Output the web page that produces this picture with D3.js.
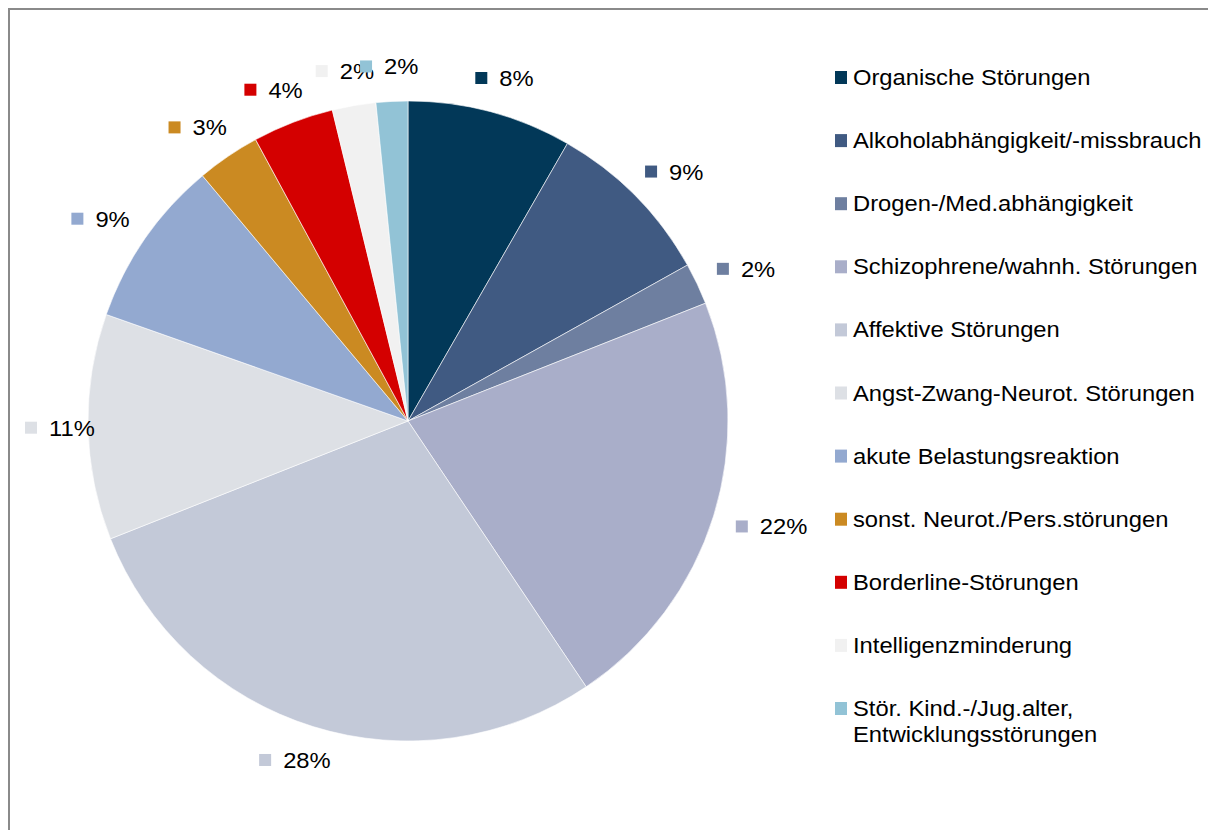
<!DOCTYPE html>
<html>
<head>
<meta charset="utf-8">
<script src="https://cdn.jsdelivr.net/npm/d3@7"></script>
<style>
  body { margin: 0; background: #fff; }
  svg { display: block; font-family: "Liberation Sans", Arial, sans-serif; }
</style>
</head>
<body>
<svg id="chart"></svg>
<script>
const categories = [
  "Organische Störungen",
  "Alkoholabhängigkeit/-missbrauch",
  "Drogen-/Med.abhängigkeit",
  "Schizophrene/wahnh. Störungen",
  "Affektive Störungen",
  "Angst-Zwang-Neurot. Störungen",
  "akute Belastungsreaktion",
  "sonst. Neurot./Pers.störungen",
  "Borderline-Störungen",
  "Intelligenzminderung",
  "Stör. Kind.-/Jug.alter, Entwicklungsstörungen"
];
const shares = [8.3, 8.6, 2.1, 21.6, 28.4, 11.4, 8.5, 3.2, 4.1, 2.2, 1.6];
const colors = ["#023858", "#405a82", "#6e7fa0", "#a9aec9", "#c3c9d8", "#dde0e5",
                "#93a9d0", "#cb8a22", "#d40000", "#f1f1f1", "#92c3d6"];

const width = 1208, height = 830;
const cx = 408, cy = 421, radius = 320;
const fontSize = 22, stretch = 1.08;

const svg = d3.select("#chart").attr("width", width).attr("height", height);

svg.append("rect")
  .attr("x", 9).attr("y", 9)
  .attr("width", width).attr("height", height)
  .attr("fill", "#fff")
  .attr("stroke", "#8a8a8a")
  .attr("stroke-width", 2);

const data = categories.map((c, i) => ({ name: c, value: shares[i], color: colors[i] }));
const pie = d3.pie().sort(null).value(d => d.value);
const arcs = pie(data);
const arc = d3.arc().innerRadius(0).outerRadius(radius);

const g = svg.append("g").attr("transform", `translate(${cx},${cy})`);

g.selectAll("path")
  .data(arcs)
  .enter()
  .append("path")
  .attr("d", arc)
  .attr("fill", d => d.data.color)
  .attr("stroke", "#fff")
  .attr("stroke-width", 0.6);

// data labels: swatch + percent, box pushed out so its edge sits on a ring
const labelArc = d3.arc().innerRadius(345).outerRadius(345);
const labels = g.selectAll("g.lbl")
  .data(arcs)
  .enter()
  .append("g")
  .attr("class", "lbl");

labels.append("rect")
  .attr("x", 0).attr("y", -6)
  .attr("width", 12).attr("height", 12)
  .attr("fill", d => d.data.color);

labels.append("text")
  .attr("transform", `translate(24,8) scale(${stretch},1)`)
  .style("font-size", fontSize + "px")
  .attr("fill", "#000")
  .text(d => Math.round(d.data.value) + "%");

labels.attr("transform", function (d) {
  const w = this.getBBox().width, h = 20;
  const [x, y] = labelArc.centroid(d);
  const a = (d.startAngle + d.endAngle) / 2;
  // keep labels inside the frame
  const lx = Math.max(25 - cx, x + Math.sin(a) * w / 2 - w / 2);
  const ly = y - Math.cos(a) * h / 2;
  return `translate(${lx},${ly})`;
});

// legend
const legend = svg.append("g").attr("transform", "translate(835,85)");
const rowStep = 63.1;

const items = legend.selectAll("g")
  .data(data)
  .enter()
  .append("g")
  .attr("transform", (_, i) => `translate(0,${i * rowStep})`);

items.append("rect")
  .attr("x", 0).attr("y", -14)
  .attr("width", 12).attr("height", 13)
  .attr("fill", d => d.color);

items.each(function (d) {
  const lines = d.name.startsWith("Stör.")
    ? ["Stör. Kind.-/Jug.alter,", "Entwicklungsstörungen"]
    : [d.name];
  const t = d3.select(this).append("text")
    .attr("transform", `translate(18,0) scale(${stretch},1)`)
    .style("font-size", fontSize + "px")
    .attr("fill", "#000");
  lines.forEach((l, j) => {
    t.append("tspan").attr("x", 0).attr("y", j * 26).text(l);
  });
});
</script>
</body>
</html>
